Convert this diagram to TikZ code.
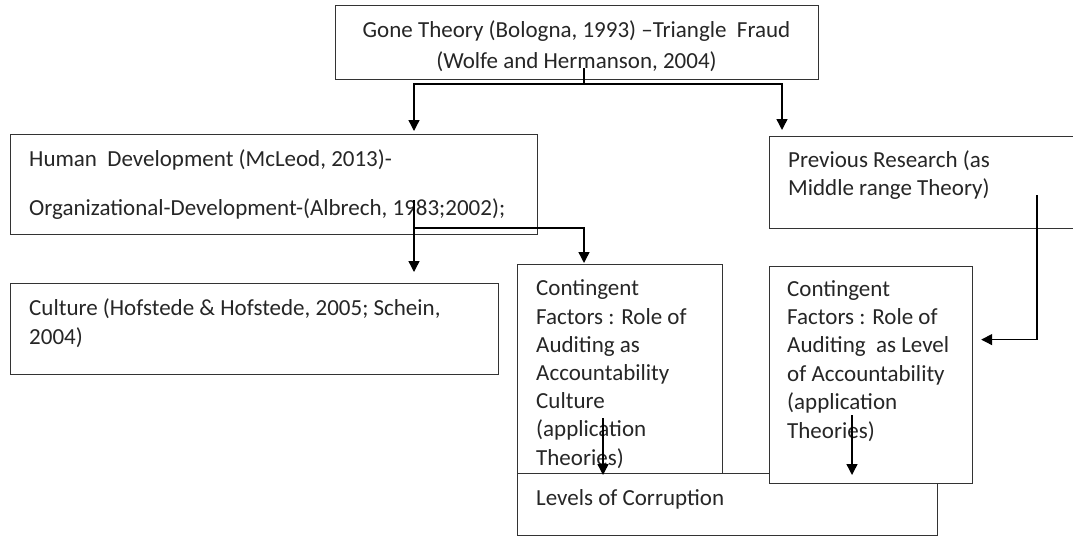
\documentclass[tikz,border=0pt]{standalone}
\usepackage{fontspec}
\setmainfont{Carlito}
\usetikzlibrary{arrows.meta,calc}
\tikzset{
  box/.style={draw=black!80, line width=1.2pt, fill=white, inner sep=0pt, anchor=north west},
  txt/.style={inner sep=0pt, anchor=base west, align=left, text=black!85},
  line/.style={draw=black, line width=1.4pt},
  arr/.style={line, -{Triangle[width=11pt,length=11pt]}},
}
\newcommand{\fs}[1]{\fontsize{23}{#1}\selectfont}
\begin{document}
\begin{tikzpicture}[x=1pt,y=-1pt]
\useasboundingbox (0,0) rectangle (1073,536);
\clip (0,0) rectangle (1073,536);
% boxes
\node[box, minimum width=483pt, minimum height=74pt] (gone) at (335,5) {};
\node[box, minimum width=527pt, minimum height=100pt] (hd) at (10,134) {};
\node[box, minimum width=310pt, minimum height=92pt] (prev) at (769,136) {};
\node[box, minimum width=488pt, minimum height=91pt] (culture) at (10,283) {};
\node[box, minimum width=205pt, minimum height=209pt] (cont1) at (517,264) {};
\node[box, minimum width=420pt, minimum height=62pt] (levels) at (517,473) {};
\node[box, minimum width=203pt, minimum height=217pt] (cont2) at (769,266) {};
% texts (anchored at the baseline of their last line)
\node[txt, anchor=base, align=center, font=\fs{31}] (gonet) at (576.5,68)
  {Gone Theory (Bologna, 1993) --Triangle\ \ Fraud\\(Wolfe and Hermanson, 2004)};
\node[txt, font=\fs{49}] (hdt) at (29,215)
  {Human\ \ Development (McLeod, 2013)-\\Organizational-Development-(Albrech, 1983;2002);};
\node[txt, font=\fs{28}] (prevt) at (788,195)
  {Previous Research (as\\Middle range Theory)};
\node[txt, font=\fs{28.5}] (culturet) at (29,344)
  {Culture (Hofstede \& Hofstede, 2005; Schein,\\2004)};
\node[txt, font=\fs{28.2}] (cont1t) at (536,465)
  {Contingent\\Factors : Role of\\Auditing as\\Accountability\\Culture\\(application\\Theories)};
\node[txt, font=\fs{28.4}] (cont2t) at (787,438)
  {Contingent\\Factors : Role of\\Auditing\ \ as Level\\of Accountability\\(application\\Theories)};
\node[txt, font=\fs{28.4}] (levelst) at (536,505) {Levels of Corruption};
% connectors
\coordinate (g0) at (584,68);
\coordinate (g1) at (584,84);
\draw[line] (g0) -- (g1);
\draw[arr, shorten >=3pt] (g1) -| ([xshift=404pt]hd.north west);
\draw[arr, shorten >=6pt] (g1) -| ([xshift=13pt]prev.north west);
\coordinate (h0) at (414,200);
\draw[arr, shorten >=11pt] (h0) -- (h0 |- culture.north);
\coordinate (h1) at (414,228);
\draw[arr, shorten >=1pt] (h1) -| ([xshift=67pt]cont1.north west);
\coordinate (p0) at (1037,195);
\draw[arr, shorten >=8pt] (p0) |- ([yshift=35.5pt]cont2.east);
\coordinate (c1) at (603,418);
\draw[arr, shorten >=-2pt] (c1) -- (c1 |- levels.north);
\coordinate (c2) at (852,415);
\draw[arr, shorten >=-2pt] (c2) -- (c2 |- levels.north);
\end{tikzpicture}
\end{document}
